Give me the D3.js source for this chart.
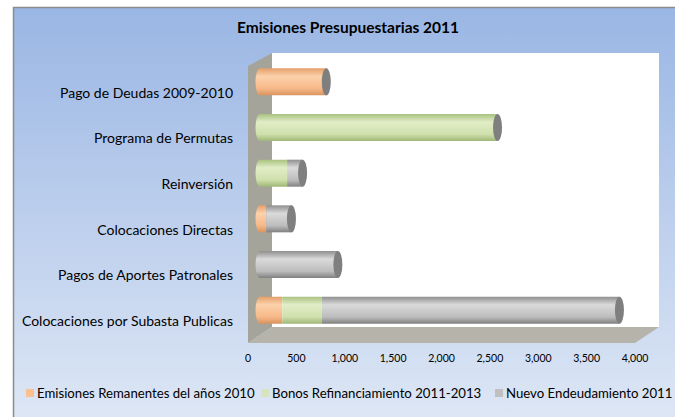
<!DOCTYPE html>
<html>
<head>
<meta charset="utf-8">
<script src="https://cdn.jsdelivr.net/npm/d3@7"></script>
<style>
  body { margin: 0; background: #ffffff; }
  svg text { font-family: Lato, "Open Sans", sans-serif; fill: #000; }
</style>
</head>
<body>
<div id="chart"></div>
<script>
// categories top to bottom, as in the picture
var categories = [
    "Pago de Deudas 2009-2010",
    "Programa de Permutas",
    "Reinversión",
    "Colocaciones Directas",
    "Pagos de Aportes Patronales",
    "Colocaciones por Subasta Publicas"
];
var seriesNames = [
    "Emisiones Remanentes del años 2010",
    "Bonos Refinanciamiento 2011-2013",
    "Nuevo Endeudamiento 2011"
];
var remanentes = [685, 0, 0, 65, 0, 230];
var bonos = [0, 2455, 280, 0, 0, 410];
var nuevo = [0, 0, 160, 260, 805, 3075];
var tickValues = [0, 500, 1000, 1500, 2000, 2500, 3000, 3500, 4000];
var chartTitle = "Emisiones Presupuestarias 2011";

var W = 675, H = 417;
var depthX = 24, depthY = -16;   // 3d depth of the walls
var barDX = 12, barDY = -10;     // where the cylinders sit in depth
var barH = 27;

var svg = d3.select("#chart").append("svg")
    .attr("width", W)
    .attr("height", H);

var defs = svg.append("defs");

var bg = defs.append("linearGradient").attr("id", "bg")
    .attr("x1", 0).attr("y1", 0).attr("x2", 0).attr("y2", 1);
bg.append("stop").attr("offset", "0%").attr("stop-color", "#9ab6e4");
bg.append("stop").attr("offset", "100%").attr("stop-color", "#dee7f5");

// cylinder shading, one per series
var cylColors = [
    ["#e59f6a", "#fcd2ab", "#f6b888", "#d9935e"],
    ["#a9c27f", "#e1edc7", "#cfe0ac", "#9fb777"],
    ["#8f8f8f", "#dadada", "#bdbdbd", "#808080"]
];
cylColors.forEach(function (c, i) {
    var g = defs.append("linearGradient").attr("id", "cyl" + i)
        .attr("x1", 0).attr("y1", 0).attr("x2", 0).attr("y2", 1);
    g.append("stop").attr("offset", "0%").attr("stop-color", c[0]);
    g.append("stop").attr("offset", "30%").attr("stop-color", c[1]);
    g.append("stop").attr("offset", "75%").attr("stop-color", c[2]);
    g.append("stop").attr("offset", "100%").attr("stop-color", c[3]);
});
var legendColors = ["#fac090", "#d7e4bd", "#c0c0c0"];

// outer chart area
svg.append("rect")
    .attr("x", 13.5).attr("y", 7.5)
    .attr("width", W).attr("height", H)
    .attr("fill", "url(#bg)")
    .attr("stroke", "#8c8c8c")
    .attr("stroke-width", 1.5);

svg.append("text")
    .attr("x", 348).attr("y", 33)
    .attr("text-anchor", "middle")
    .style("font-size", "15.5px")
    .style("font-weight", "bold")
    .text(chartTitle);

// scales on the front plane
var x = d3.scaleLinear().domain([0, 4000]).range([248, 635]);
var y = d3.scaleBand().domain(categories).range([69, 343]);

var x0 = x(0), x1 = x(4000), yTop = y.range()[0], yBot = y.range()[1];

// back wall
svg.append("rect")
    .attr("x", x0 + depthX).attr("y", yTop + depthY)
    .attr("width", x1 - x0).attr("height", yBot - yTop)
    .attr("fill", "#ffffff");

// side wall
svg.append("path")
    .attr("d", "M" + x0 + "," + (yTop - 3) +
        "L" + (x0 + depthX) + "," + (yTop + depthY) +
        "L" + (x0 + depthX) + "," + (yBot + depthY) +
        "L" + x0 + "," + yBot + "Z")
    .attr("fill", "#a5a49a");

// floor
svg.append("path")
    .attr("d", "M" + x0 + "," + yBot +
        "L" + (x0 + depthX) + "," + (yBot + depthY) +
        "L" + (x1 + depthX) + "," + (yBot + depthY) +
        "L" + x1 + "," + yBot + "Z")
    .attr("fill", "#b6b3aa");

// stacked cylinders
var allSeries = [remanentes, bonos, nuevo];
var rx = 4.5;
var bars = svg.append("g");

categories.forEach(function (cat, ci) {
    var cy = y(cat) + y.bandwidth() / 2 + barDY;
    var top = cy - barH / 2;
    var start = 0;
    var segs = [];
    allSeries.forEach(function (s, si) {
        if (s[ci] > 0) {
            segs.push({ si: si, a: start, b: start + s[ci] });
            start += s[ci];
        }
    });
    segs.forEach(function (sg, k) {
        var xa = x(sg.a) + barDX, xb = x(sg.b) + barDX;
        var d;
        if (k === 0) {
            // rounded left end
            d = "M" + xa + "," + top +
                "L" + xb + "," + top +
                "L" + xb + "," + (top + barH) +
                "L" + xa + "," + (top + barH) +
                "A" + rx + "," + (barH / 2) + " 0 0 1 " + xa + "," + top + "Z";
        } else {
            d = "M" + xa + "," + top +
                "L" + xb + "," + top +
                "L" + xb + "," + (top + barH) +
                "L" + xa + "," + (top + barH) + "Z";
        }
        bars.append("path")
            .attr("d", d)
            .attr("fill", "url(#cyl" + sg.si + ")");
    });
    // end cap
    var xe = x(start) + barDX;
    bars.append("ellipse")
        .attr("cx", xe).attr("cy", cy)
        .attr("rx", rx).attr("ry", barH / 2)
        .attr("fill", "#7f7f7f");
});

// category labels
svg.append("g").selectAll("text")
    .data(categories)
    .enter()
    .append("text")
    .attr("x", 233)
    .attr("y", function (d) { return y(d) + y.bandwidth() / 2 + 1; })
    .attr("dy", "0.35em")
    .attr("text-anchor", "end")
    .style("font-size", "14px")
    .text(function (d) { return d; });

// value axis labels
svg.append("g").selectAll("text")
    .data(tickValues)
    .enter()
    .append("text")
    .attr("x", function (d) { return x(d); })
    .attr("y", 358)
    .attr("dy", "0.35em")
    .attr("text-anchor", "middle")
    .style("font-size", "10.5px")
    .text(d3.format(","));

// legend
var legendX = [26, 261, 495];
var legend = svg.append("g");
seriesNames.forEach(function (name, i) {
    legend.append("rect")
        .attr("x", legendX[i]).attr("y", 389)
        .attr("width", 8).attr("height", 8)
        .attr("fill", legendColors[i]);
    legend.append("text")
        .attr("x", legendX[i] + 11).attr("y", 393)
        .attr("dy", "0.35em")
        .style("font-size", "13.2px")
        .text(name);
});
</script>
</body>
</html>
